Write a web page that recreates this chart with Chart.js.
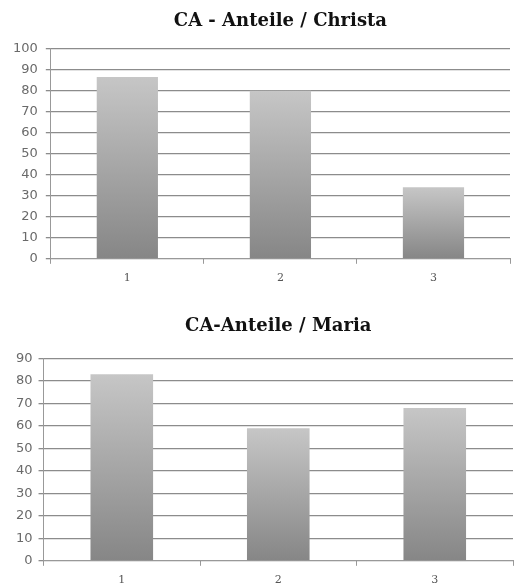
<!DOCTYPE html>
<html>
<head>
<meta charset="utf-8">
<script src="https://cdn.jsdelivr.net/npm/chart.js@4/dist/chart.umd.min.js"></script>
<style>
  body { margin: 0; background: #fff; overflow: hidden; }
  .box { position: absolute; left: 0; width: 519px; }
</style>
</head>
<body>
<div class="box" style="top:0;height:292px"><canvas id="chartChrista" width="519" height="292"></canvas></div>
<div class="box" style="top:296px;height:299px"><canvas id="chartMaria" width="519" height="299"></canvas></div>
<script>
// data
const categories = ["1", "2", "3"]
const christaValues = [86.5, 80, 34]
const mariaValues = [83, 59, 68]
const christaTitle = "CA - Anteile / Christa"
const mariaTitle = "CA-Anteile / Maria"

// gradient per bar: light on top, darker at the base
function barGradient(ctx) {
    const chart = ctx.chart
    if (!chart.chartArea || !chart.scales.y) return "#aaa"
    const y = chart.scales.y
    const top = y.getPixelForValue(ctx.raw)
    const bottom = y.getPixelForValue(0)
    const g = chart.ctx.createLinearGradient(0, top, 0, bottom)
    g.addColorStop(0, "#c6c6c6")
    g.addColorStop(1, "#868686")
    return g
}

function makeChart(id, title, values, maxY, pad, titlePad, tickPad) {
    const ctx = document.getElementById(id).getContext('2d')
    return new Chart(ctx, {
        type: 'bar',
        data: {
            labels: categories,
            datasets: [{
                data: values,
                backgroundColor: barGradient,
                borderWidth: 0,
                barPercentage: 0.4,
                categoryPercentage: 1
            }]
        },
        options: {
            responsive: false,
            animation: false,
            layout: { padding: pad },
            plugins: {
                legend: { display: false },
                tooltip: { enabled: false },
                title: {
                    display: true,
                    text: title,
                    fullSize: false,
                    color: "#111",
                    font: { family: "DejaVu Serif", size: 18, weight: "bold" },
                    padding: titlePad
                }
            },
            scales: {
                x: {
                    offset: true,
                    grid: {
                        offset: true,
                        drawOnChartArea: false,
                        drawTicks: true,
                        tickLength: 5,
                        color: "#999"
                    },
                    border: { color: "#999" },
                    ticks: {
                        color: "#555",
                        font: { family: "DejaVu Serif", size: 11 },
                        padding: 8
                    }
                },
                y: {
                    min: 0,
                    max: maxY,
                    ticks: {
                        stepSize: 10,
                        color: "#6a6a6a",
                        font: { family: "DejaVu Sans", size: 13 },
                        padding: tickPad
                    },
                    grid: {
                        color: "#8c8c8c",
                        lineWidth: 1.3,
                        tickLength: 5
                    },
                    border: { color: "#999" }
                }
            }
        }
    })
}

makeChart("chartChrista", christaTitle, christaValues, 100,
    { left: 5, right: 9, top: 2, bottom: -1 }, { top: 9, bottom: 16 }, 8)
makeChart("chartMaria", mariaTitle, mariaValues, 90,
    { left: 10, right: 6, top: 2, bottom: 0 }, { top: 18, bottom: 21 }, 6)
</script>
</body>
</html>
